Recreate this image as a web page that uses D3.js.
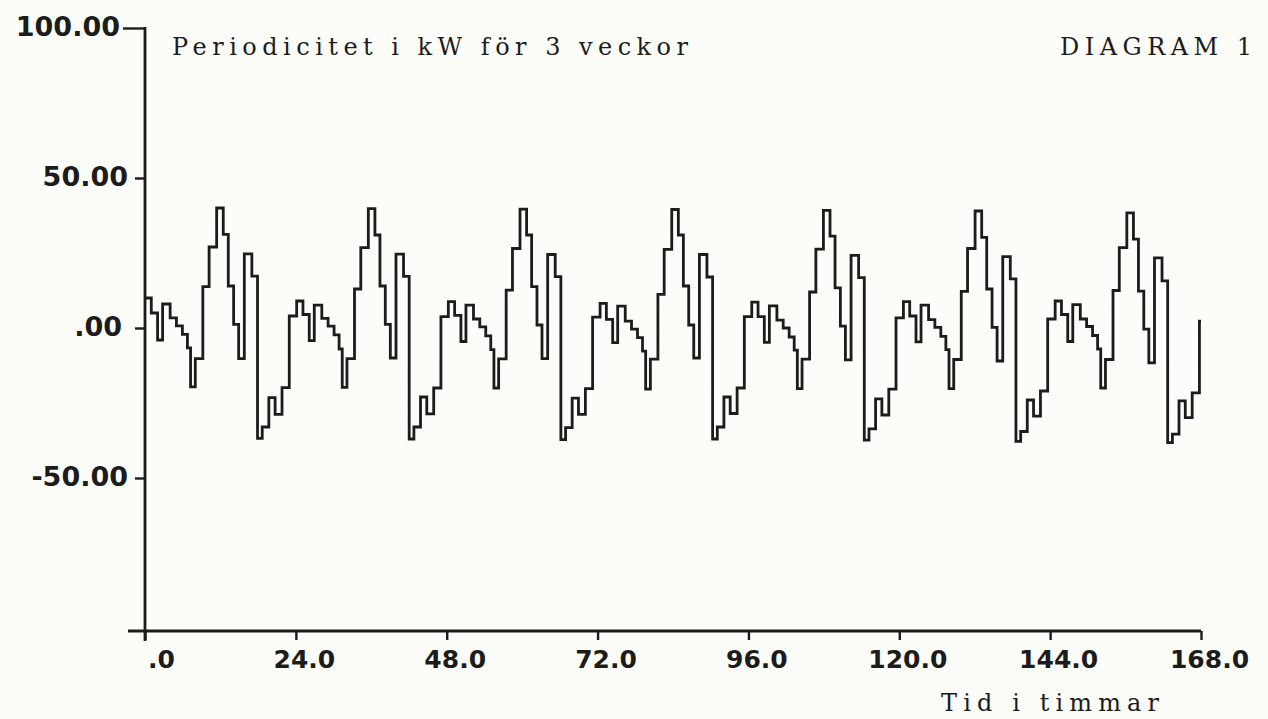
<!DOCTYPE html>
<html><head><meta charset="utf-8">
<script src="https://cdn.jsdelivr.net/npm/d3@7/dist/d3.min.js"></script>
<style>
html,body{margin:0;padding:0;background:#fcfcf8;}
svg{display:block;}
</style></head>
<body><svg id="c" width="1268" height="719"></svg>
<script>
// ---- data ----
const xTicks = [0, 24, 48, 72, 96, 120, 144, 168];
const yTicks = [-50, 0, 50, 100];
// start hour of each day's first step
const dayStarts = [0, 24.13, 48.26, 72.4, 96.53, 120.66, 144.8];
// start of each step, hours after the day's start
const stepOffsets = [0, 1.0, 2.0, 2.8, 4.0, 5.0, 5.95, 6.75, 7.25, 8.0, 9.2, 10.2, 11.4, 12.45, 13.25, 14.1, 14.9, 15.8, 17.0, 17.9, 18.65, 19.7, 20.7, 21.8, 22.95];
// kW values of each step, one list per day
const day1 = [10, 5, -4, 8, 3.4, 0.7, -2.1, -6.6, -19.6, -10.2, 13.8, 27, 40, 31.2, 14, 1.2, -10.2, 24.7, 17.3, -36.8, -33, -23.2, -28.8, -19.9, 4];
const day2 = [9, 4.5, -4.2, 7.6, 3.2, 0.6, -2.3, -7, -19.8, -10.2, 13, 26.8, 39.8, 31, 14, 1.2, -10, 24.6, 17.2, -37, -33, -23, -28.6, -20, 3.8];
const day3 = [8.8, 4.2, -4.5, 7.6, 3, 0.4, -2.6, -7.2, -20, -10.3, 12.6, 26.5, 39.6, 31, 13.8, 1, -10.2, 24.5, 17.1, -37.2, -33.2, -23.4, -28.8, -20.2, 3.6];
const day4 = [8.2, 2.9, -4.9, 7.3, 2.3, -0.4, -3.2, -7.7, -20.4, -10.4, 11.2, 26.2, 39.5, 31, 14, 1, -10, 24.5, 17, -37, -33, -23, -28.5, -20, 3.8];
const day5 = [8.6, 3.8, -4.8, 7.4, 2.6, 0, -3, -7.4, -20.2, -10.4, 12, 26.3, 39.2, 30.6, 13.4, 0.6, -10.6, 24.2, 16.8, -37.4, -33.6, -23.6, -29, -20.4, 3.4];
const day6 = [8.8, 4, -4.6, 7.6, 2.8, 0.2, -2.8, -7.2, -20.2, -10.5, 12.2, 26.5, 39, 30.2, 13, 0.2, -11, 23.8, 16.4, -37.8, -34.5, -24, -29.4, -21, 3];
const day7 = [9, 4.5, -4.5, 7.8, 3, 0.5, -2.5, -7, -20, -10.5, 12.5, 26.8, 38.4, 29.6, 12.3, -0.4, -11.6, 23.4, 15.7, -38.2, -35.4, -24.3, -29.9, -21.6, 2.3];
const days = [day1, day2, day3, day4, day5, day6, day7];
const endHour = 168;

// ---- build step points ----
const pts = [];
days.forEach((vals, di) => {
  vals.forEach((v, i) => pts.push({t: dayStarts[di] + stepOffsets[i], v: v}));
});
pts.push({t: endHour, v: pts[pts.length - 1].v});

// ---- scales ----
const x = d3.scaleLinear().domain([0, 168]).range([145, 1201]);
const y = d3.scaleLinear().domain([-101, 100]).range([631, 28]);

const svg = d3.select("#c");
const ink = "#1c1c1c";

// axis lines
svg.append("line").attr("x1", x(0)).attr("x2", x(0)).attr("y1", y(100) - 1).attr("y2", y(-101) + 10)
  .attr("stroke", ink).attr("stroke-width", 2.8);
svg.append("line").attr("x1", x(0) - 17).attr("x2", x(168)).attr("y1", y(-101)).attr("y2", y(-101))
  .attr("stroke", ink).attr("stroke-width", 2.8);

const fmtX = d => d3.format(".1f")(d).replace(/^0\./, ".");
const fmtY = d => d3.format(".2f")(d).replace("\u2212", "-").replace(/^(-?)0\./, "$1.");

const gx = svg.append("g").attr("transform", `translate(0,${y(-101)})`)
  .call(d3.axisBottom(x).tickValues(xTicks).tickSize(9).tickPadding(10).tickFormat(fmtX));
gx.select(".domain").remove();
gx.selectAll(".tick line").attr("stroke", ink).attr("stroke-width", 2.4);
gx.selectAll(".tick text")
  .attr("fill", ink).attr("font-family", "'DejaVu Sans', sans-serif").attr("font-weight", "bold")
  .attr("font-size", 25).attr("dx", d => d === 0 ? 16 : 8);

const gy = svg.append("g").attr("transform", `translate(${x(0)},0)`)
  .call(d3.axisLeft(y).tickValues(yTicks).tickSize(10).tickPadding(5).tickFormat(fmtY));
gy.select(".domain").remove();
gy.selectAll(".tick line").attr("stroke", ink).attr("stroke-width", 2.4)
  .attr("x2", d => d === 100 ? -22 : -10);
gy.selectAll(".tick text")
  .attr("fill", ink).attr("font-family", "'DejaVu Sans', sans-serif").attr("font-weight", "bold")
  .attr("font-size", 27).attr("dx", d => d === 100 ? -10 : (d === 0 ? -8 : -2)).attr("dy", "0.28em");

// series
const line = d3.line().x(d => x(d.t)).y(d => y(d.v)).curve(d3.curveStepAfter);
svg.append("path").datum(pts).attr("d", line)
  .attr("fill", "none").attr("stroke", ink).attr("stroke-width", 2.8).attr("stroke-linejoin", "miter");

// texts
const serif = "'DejaVu Serif', 'Liberation Serif', serif";
svg.append("text").attr("x", 172).attr("y", 55).text("Periodicitet i kW för 3 veckor")
  .attr("font-family", serif).attr("font-size", 24).attr("fill", ink)
  .attr("textLength", 516).attr("lengthAdjust", "spacing");
svg.append("text").attr("x", 1060).attr("y", 55).text("DIAGRAM 1")
  .attr("font-family", serif).attr("font-size", 24).attr("fill", ink)
  .attr("textLength", 192).attr("lengthAdjust", "spacing");
svg.append("text").attr("x", 941).attr("y", 711).text("Tid i timmar")
  .attr("font-family", serif).attr("font-size", 24).attr("fill", ink)
  .attr("textLength", 218).attr("lengthAdjust", "spacing");
</script>
</body></html>
